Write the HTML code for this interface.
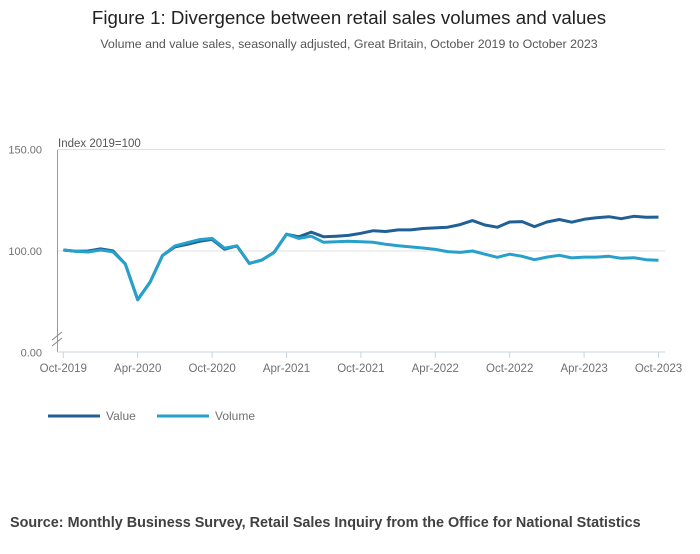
<!DOCTYPE html>
<html><head><meta charset="utf-8"><style>
body{margin:0;background:#fff;width:700px;height:549px;overflow:hidden;font-family:"Liberation Sans",sans-serif}
</style></head><body>
<svg width="700" height="549" xmlns="http://www.w3.org/2000/svg">
<text x="349" y="24" text-anchor="middle" font-size="18.7" fill="#222">Figure 1: Divergence between retail sales volumes and values</text>
<text x="349" y="48" text-anchor="middle" font-size="12.4" fill="#555">Volume and value sales, seasonally adjusted, Great Britain, October 2019 to October 2023</text>
<text x="58" y="147" font-size="11.5" fill="#555">Index 2019=100</text>
<g id="axes"></g>
<g id="series"></g>
<g>
<line x1="48" y1="416" x2="100" y2="416" stroke="#206095" stroke-width="3"/>
<text x="106" y="420" font-size="12" fill="#707070">Value</text>
<line x1="157" y1="416" x2="209" y2="416" stroke="#27a0cc" stroke-width="3"/>
<text x="215" y="420" font-size="12" fill="#707070">Volume</text>
</g>
<text x="10" y="527" font-size="14.4" font-weight="bold" fill="#414042">Source: Monthly Business Survey, Retail Sales Inquiry from the Office for National Statistics</text>
</svg>
<script>
const valueSeries=[100.5,99.9,100,101.1,100.1,93.6,76,84.7,97.8,102,103.3,104.8,105.7,100.9,102.5,93.9,95.5,99.3,108.3,107,109.3,107,107.3,107.7,108.7,110,109.6,110.4,110.4,111.1,111.4,111.7,113,115,112.8,111.7,114.3,114.5,112,114.3,115.5,114.2,115.6,116.4,116.9,115.9,117.1,116.6,116.7];
const volumeSeries=[100.5,99.9,99.5,100.5,99.6,93.6,76,84.7,97.8,102.5,104.1,105.6,106.2,101.4,102.5,93.9,95.5,99.3,108.3,106.2,107.3,104.3,104.6,104.8,104.6,104.3,103.3,102.6,102,101.5,100.8,99.7,99.3,100,98.4,96.9,98.4,97.4,95.7,97,97.9,96.6,97,97,97.4,96.4,96.7,95.7,95.4];
const tickLabels=["Oct-2019","Apr-2020","Oct-2020","Apr-2021","Oct-2021","Apr-2022","Oct-2022","Apr-2023","Oct-2023"];
const yTicks=[150,100,50];
const yTickLabels=["150.00","100.00","0.00"];
const NS="http://www.w3.org/2000/svg";
const X0=63.3,DX=12.4;
const xs=i=>X0+DX*i;
const ys=v=>251-(v-100)*2.03;
function mk(t,a,p){const e=document.createElementNS(NS,t);for(const k in a)e.setAttribute(k,a[k]);p.appendChild(e);return e;}
const ax=document.getElementById('axes');
yTicks.forEach((v,i)=>{
  if(v>50){const g=mk('line',{x1:57,x2:665,y1:ys(v),y2:ys(v),stroke:'#e0e0e0','stroke-width':1},ax);
  
  }
  const t=mk('text',{x:42,y:ys(v)+4,'text-anchor':'end','font-size':11,fill:'#707070'},ax);t.textContent=yTickLabels[i];
  
  
});
const yl=mk('line',{x1:57.5,x2:57.5,y1:150,y2:352,stroke:'#999','stroke-width':1},ax);


const br=mk('path',{d:'M52,340 L62,332 M52,346 L62,338',stroke:'#888','stroke-width':1,fill:'none'},ax);


const xl=mk('line',{x1:57,x2:665,y1:352,y2:352,stroke:'#c8d4e0','stroke-width':1},ax);


tickLabels.forEach((l,i)=>{
  const x=xs(i*6);
  const tk=mk('line',{x1:x,x2:x,y1:352,y2:358,stroke:'#c8d4e0'},ax);
  
  
  const t=mk('text',{x:x,y:372,'text-anchor':'middle','font-size':11.5,fill:'#707070'},ax);t.textContent=l;
  
  
});
const sg=document.getElementById('series');
function line(arr,col,name){
  const d=arr.map((v,i)=>(i?'L':'M')+xs(i).toFixed(1)+','+ys(v).toFixed(1)).join(' ');
  const p=mk('path',{d:d,stroke:col,'stroke-width':3,fill:'none','stroke-linejoin':'round'},sg);
  
  
}
line(valueSeries,'#206095','value-line');
line(volumeSeries,'#27a0cc','volume-line');
</script>
</body></html>
